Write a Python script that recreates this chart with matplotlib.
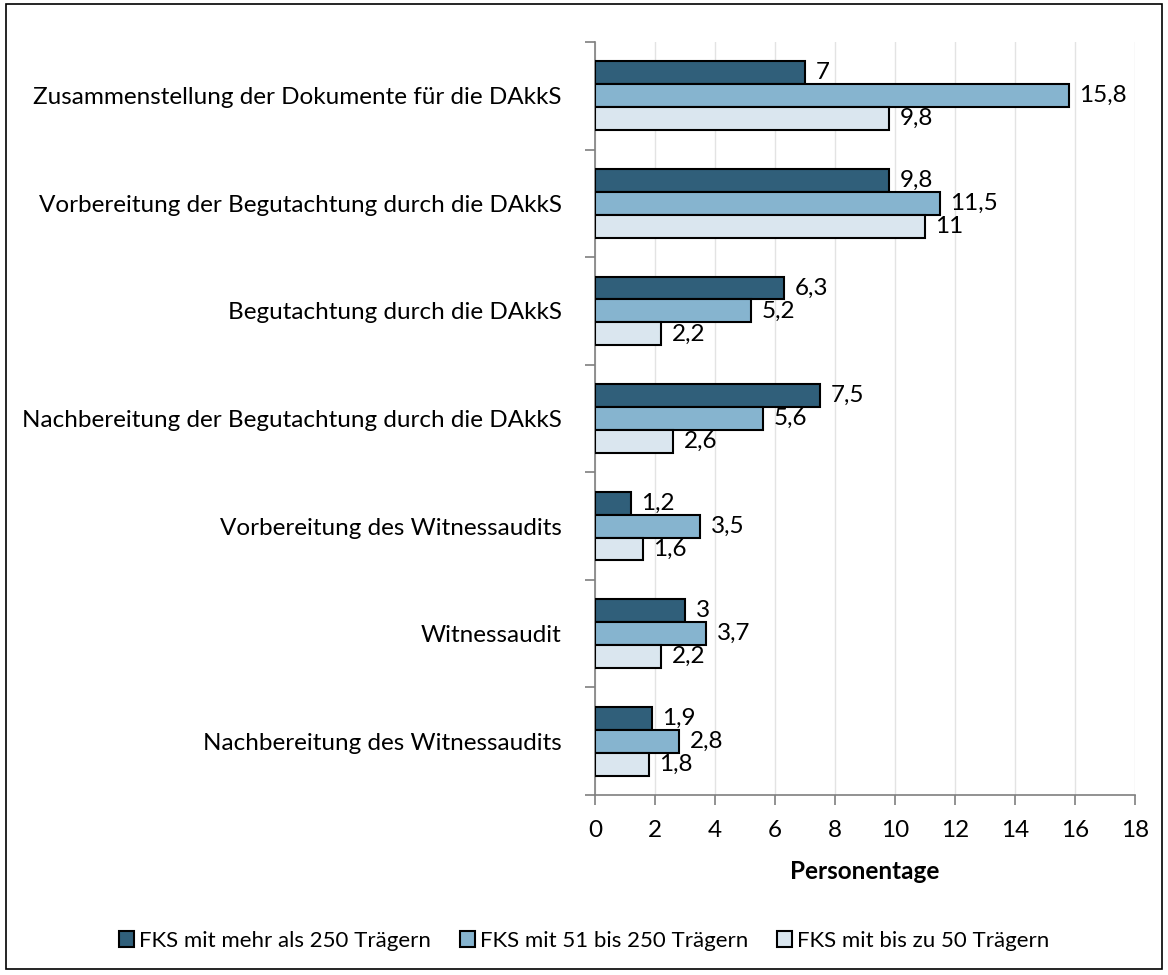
import numpy as np
import matplotlib
matplotlib.use('Agg')
import matplotlib.pyplot as plt
from matplotlib.patches import Rectangle

categories = ['Zusammenstellung der Dokumente für die DAkkS',
              'Vorbereitung der Begutachtung durch die DAkkS',
              'Begutachtung durch die DAkkS',
              'Nachbereitung der Begutachtung durch die DAkkS',
              'Vorbereitung des Witnessaudits',
              'Witnessaudit',
              'Nachbereitung des Witnessaudits']
series_names = ['FKS mit mehr als 250 Trägern',
                'FKS mit 51 bis 250 Trägern',
                'FKS mit bis zu 50 Trägern']
gross = [7, 9.8, 6.3, 7.5, 1.2, 3, 1.9]
mittel = [15.8, 11.5, 5.2, 5.6, 3.5, 3.7, 2.8]
klein = [9.8, 11, 2.2, 2.6, 1.6, 2.2, 1.8]
colors = ['#305f7a', '#86b4cf', '#dae6ef']

plt.rcParams['font.family'] = ['Lato', 'DejaVu Sans']
fs = 17.5

fig = plt.figure(figsize=(11.68, 9.75), dpi=100)
ax = fig.add_axes([0.5094, 0.1846, 0.4623, 0.7723])

n = len(categories)
y = np.arange(n)
h = 0.213
for i, (vals, name) in enumerate(zip([gross, mittel, klein], series_names)):
    pos = y + (i - 1) * h
    ax.barh(pos, vals, height=h, color=colors[i], edgecolor='black',
            linewidth=1.5, label=name, zorder=3)
    for p, v in zip(pos, vals):
        txt = ('%g' % v).replace('.', ',')
        ax.text(v + 0.35, p, txt, va='center', ha='left', fontsize=fs, zorder=4)

ax.set_ylim(n - 0.5, -0.5)
ax.set_xlim(0, 18)
ax.set_xticks(range(0, 19, 2))
ax.set_yticks(y)
ax.set_yticklabels(categories, fontsize=fs)
ax.set_yticks(np.arange(-0.5, n, 1), minor=True)
ax.tick_params(axis='y', which='major', length=0, pad=24)
ax.tick_params(axis='y', which='minor', length=7, color='#7f7f7f', width=1.2)
ax.tick_params(axis='x', length=7, color='#7f7f7f', width=1.2, labelsize=fs, pad=11)
ax.grid(axis='x', color='#e3e3e3', linewidth=1, zorder=0)
for s in ['top', 'right']:
    ax.spines[s].set_visible(False)
for s in ['left', 'bottom']:
    ax.spines[s].set_color('#7f7f7f')
    ax.spines[s].set_linewidth(1.2)
ax.set_xlabel('Personentage', fontsize=fs, fontweight='bold', labelpad=14)

fig.legend(loc='center', bbox_to_anchor=(0.5, 0.035), ncol=3, frameon=False,
           fontsize=16, handlelength=0.7, handleheight=0.7,
           handletextpad=0.2, columnspacing=1.3)

fig.patches.append(Rectangle((0.005, 0.006), 0.99, 0.99, transform=fig.transFigure,
                             fill=False, edgecolor='black', linewidth=1.2))

fig.savefig('out.png', dpi=100)
